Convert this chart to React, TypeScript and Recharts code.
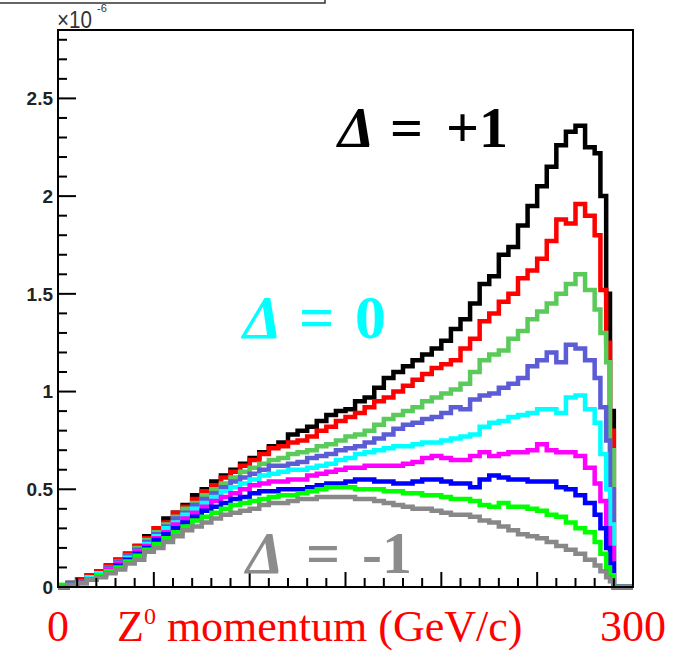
import React from 'react';
import { LineChart, Line, XAxis, YAxis, ReferenceArea } from 'recharts';

// bin lower edges (GeV/c); finer bins near the kinematic edge
const momentum = [
  0, 5, 10, 15, 20, 25, 30, 35, 40, 45, 50, 55, 60, 65, 70, 75, 80, 85, 90, 95,
  100, 105, 110, 115, 120, 125, 130, 135, 140, 145, 150, 155, 160, 165, 170, 175, 180, 185, 190, 195,
  200, 205, 210, 215, 220, 225, 230, 235, 240, 245, 250, 255, 260, 265, 270, 275, 280, 283, 286, 288,
  290, 300,
];

// values in units of 1e-6
const dPlus100 = [
  0.00, 0.02, 0.04, 0.06, 0.08, 0.11, 0.14, 0.17, 0.21, 0.26, 0.30, 0.35, 0.38, 0.42, 0.47, 0.50, 0.54, 0.57, 0.60, 0.63,
  0.66, 0.69, 0.72, 0.74, 0.78, 0.80, 0.82, 0.85, 0.88, 0.90, 0.91, 0.95, 0.97, 1.02, 1.07, 1.10, 1.13, 1.16, 1.19, 1.22,
  1.26, 1.32, 1.37, 1.45, 1.55, 1.59, 1.70, 1.74, 1.85, 1.95, 2.05, 2.15, 2.26, 2.33, 2.36, 2.25, 2.22, 2.00, 1.50, 0.90,
  0, 0,
];
const dPlus075 = [
  0.00, 0.02, 0.04, 0.06, 0.08, 0.11, 0.14, 0.17, 0.21, 0.25, 0.30, 0.33, 0.38, 0.41, 0.45, 0.49, 0.52, 0.56, 0.59, 0.62,
  0.65, 0.68, 0.71, 0.72, 0.74, 0.75, 0.77, 0.80, 0.82, 0.85, 0.87, 0.89, 0.92, 0.95, 0.97, 1.00, 1.03, 1.06, 1.09, 1.12,
  1.14, 1.16, 1.22, 1.27, 1.36, 1.40, 1.46, 1.50, 1.58, 1.62, 1.68, 1.77, 1.88, 1.86, 1.96, 1.90, 1.80, 1.52, 1.25, 0.80,
  0, 0,
];
const dPlus050 = [
  0.01, 0.02, 0.03, 0.05, 0.07, 0.10, 0.13, 0.16, 0.20, 0.24, 0.28, 0.32, 0.36, 0.40, 0.43, 0.47, 0.50, 0.53, 0.56, 0.59,
  0.61, 0.63, 0.65, 0.66, 0.68, 0.69, 0.70, 0.72, 0.73, 0.75, 0.77, 0.78, 0.80, 0.83, 0.86, 0.88, 0.90, 0.92, 0.95, 0.97,
  0.99, 1.01, 1.04, 1.10, 1.16, 1.19, 1.21, 1.27, 1.31, 1.37, 1.41, 1.45, 1.50, 1.55, 1.60, 1.52, 1.42, 1.30, 1.15, 0.70,
  0, 0,
];
const dPlus025 = [
  0.00, 0.02, 0.03, 0.05, 0.07, 0.10, 0.13, 0.16, 0.19, 0.23, 0.27, 0.31, 0.35, 0.38, 0.42, 0.45, 0.48, 0.51, 0.54, 0.56,
  0.58, 0.60, 0.62, 0.62, 0.63, 0.64, 0.66, 0.67, 0.68, 0.70, 0.71, 0.72, 0.74, 0.76, 0.78, 0.81, 0.83, 0.84, 0.86, 0.87,
  0.89, 0.92, 0.91, 0.96, 0.98, 0.99, 1.02, 1.04, 1.07, 1.13, 1.16, 1.20, 1.15, 1.24, 1.22, 1.16, 1.07, 0.92, 0.75, 0.50,
  0, 0,
];
const dZero = [
  0.00, 0.01, 0.03, 0.05, 0.07, 0.09, 0.12, 0.15, 0.18, 0.22, 0.26, 0.30, 0.33, 0.37, 0.40, 0.43, 0.46, 0.49, 0.51, 0.53,
  0.55, 0.57, 0.58, 0.59, 0.60, 0.60, 0.61, 0.62, 0.63, 0.65, 0.66, 0.68, 0.69, 0.70, 0.71, 0.72, 0.72, 0.73, 0.74, 0.74,
  0.75, 0.76, 0.77, 0.78, 0.82, 0.84, 0.85, 0.87, 0.88, 0.89, 0.91, 0.91, 0.89, 0.97, 0.98, 0.91, 0.84, 0.68, 0.50, 0.32,
  0, 0,
];
const dMinus025 = [
  0.00, 0.01, 0.03, 0.04, 0.06, 0.09, 0.12, 0.14, 0.18, 0.21, 0.25, 0.28, 0.32, 0.35, 0.38, 0.41, 0.44, 0.46, 0.48, 0.50,
  0.52, 0.53, 0.54, 0.54, 0.55, 0.55, 0.57, 0.58, 0.59, 0.60, 0.61, 0.61, 0.62, 0.62, 0.62, 0.62, 0.63, 0.64, 0.66, 0.67,
  0.66, 0.65, 0.65, 0.67, 0.69, 0.67, 0.68, 0.69, 0.69, 0.70, 0.73, 0.70, 0.69, 0.69, 0.67, 0.61, 0.53, 0.44, 0.30, 0.20,
  0, 0,
];
const dMinus050 = [
  0.00, 0.01, 0.02, 0.04, 0.06, 0.08, 0.11, 0.14, 0.17, 0.20, 0.24, 0.27, 0.30, 0.33, 0.36, 0.39, 0.41, 0.43, 0.45, 0.46,
  0.48, 0.49, 0.49, 0.50, 0.50, 0.50, 0.51, 0.52, 0.53, 0.53, 0.54, 0.55, 0.55, 0.54, 0.54, 0.53, 0.53, 0.54, 0.55, 0.55,
  0.54, 0.53, 0.53, 0.51, 0.55, 0.57, 0.56, 0.55, 0.55, 0.54, 0.54, 0.54, 0.51, 0.50, 0.47, 0.43, 0.37, 0.30, 0.20, 0.12,
  0, 0,
];
const dMinus075 = [
  0.01, 0.01, 0.02, 0.04, 0.06, 0.08, 0.10, 0.13, 0.16, 0.19, 0.22, 0.25, 0.28, 0.31, 0.34, 0.36, 0.38, 0.40, 0.42, 0.43,
  0.44, 0.45, 0.46, 0.47, 0.47, 0.48, 0.49, 0.50, 0.51, 0.51, 0.51, 0.50, 0.50, 0.50, 0.49, 0.49, 0.48, 0.48, 0.47, 0.47,
  0.46, 0.45, 0.45, 0.44, 0.42, 0.41, 0.43, 0.41, 0.41, 0.40, 0.39, 0.37, 0.36, 0.33, 0.30, 0.28, 0.23, 0.17, 0.10, 0.06,
  0, 0,
];
const dMinus100 = [
  0.00, 0.01, 0.02, 0.04, 0.05, 0.07, 0.09, 0.12, 0.14, 0.18, 0.20, 0.23, 0.26, 0.29, 0.31, 0.33, 0.35, 0.37, 0.38, 0.39,
  0.40, 0.42, 0.43, 0.43, 0.44, 0.45, 0.45, 0.46, 0.46, 0.46, 0.46, 0.45, 0.45, 0.44, 0.43, 0.42, 0.41, 0.40, 0.40, 0.39,
  0.38, 0.37, 0.37, 0.36, 0.34, 0.33, 0.31, 0.29, 0.27, 0.26, 0.25, 0.23, 0.21, 0.19, 0.17, 0.14, 0.11, 0.08, 0.05, 0.03,
  0, 0,
];

const xTicks = [
  0, 10, 20, 30, 40, 50, 60, 70, 80, 90, 100, 110, 120, 130, 140, 150, 160, 170, 180, 190,
  200, 210, 220, 230, 240, 250, 260, 270, 280, 290, 300,
];
const xLabels = [0, 300];
const yTicks = [
  0, 0.1, 0.2, 0.3, 0.4, 0.5, 0.6, 0.7, 0.8, 0.9, 1, 1.1, 1.2, 1.3, 1.4, 1.5,
  1.6, 1.7, 1.8, 1.9, 2, 2.1, 2.2, 2.3, 2.4, 2.5, 2.6, 2.7, 2.8,
];
const yLabels = [0, 0.5, 1, 1.5, 2, 2.5];

const series = [
  { key: 'dPlus100', values: dPlus100, color: '#000000' },
  { key: 'dPlus075', values: dPlus075, color: '#ff0000' },
  { key: 'dPlus050', values: dPlus050, color: '#5acb5a' },
  { key: 'dPlus025', values: dPlus025, color: '#5c5cd6' },
  { key: 'dZero', values: dZero, color: '#00ffff' },
  { key: 'dMinus025', values: dMinus025, color: '#ff00ff' },
  { key: 'dMinus050', values: dMinus050, color: '#0000ff' },
  { key: 'dMinus075', values: dMinus075, color: '#00ff00' },
  { key: 'dMinus100', values: dMinus100, color: '#888888' },
];

const data = momentum.map((m, i) => {
  const row: Record<string, number> = { m };
  series.forEach(s => { row[s.key] = s.values[i]; });
  return row;
});

const W = 685;
const H = 651;
const Y_MAX = 2.85;
const SERIF = '"Liberation Serif", "Times New Roman", serif';
const SANS = '"Liberation Sans", Arial, sans-serif';

const YTick = (props: any) => {
  const { x, y, payload } = props;
  const v = payload.value;
  const major = yLabels.includes(v);
  return (
    <g>
      <line x1={x} x2={x + (major ? 18 : 9)} y1={y} y2={y} stroke="#000" strokeWidth={2} />
      {major && (
        <text x={x - 5} y={y} dy="0.36em" textAnchor="end" fontFamily={SANS} fontWeight="bold" fontSize={19} fill="#222">
          {v}
        </text>
      )}
    </g>
  );
};

const XTick = (props: any) => {
  const { x, y, payload } = props;
  const v = payload.value;
  const major = v % 50 === 0;
  return (
    <g>
      <line x1={x} x2={x} y1={y} y2={y - (major ? 15 : 9)} stroke="#000" strokeWidth={2} />
      {xLabels.includes(v) && (
        <text x={x} y={y + 54} textAnchor="middle" fontFamily={SERIF} fontSize={44} fill="#ff0000">
          {v}
        </text>
      )}
    </g>
  );
};

export default function App() {
  return (
    <div style={{ position: 'absolute', left: 0, top: 0, width: W, height: H, background: '#fff' }}>
      <LineChart width={W} height={H} data={data} margin={{ top: 30, right: 52, bottom: 63, left: 57 }}>
        <XAxis
          dataKey="m"
          type="number"
          domain={[0, 300]}
          ticks={xTicks}
          interval={0}
          height={1}
          tickSize={0}
          tickMargin={0}
          tickLine={false}
          axisLine={{ stroke: '#000', strokeWidth: 2 }}
          tick={<XTick />}
        />
        <YAxis
          type="number"
          domain={[0, Y_MAX]}
          ticks={yTicks}
          interval={0}
          width={1}
          tickSize={0}
          tickMargin={0}
          tickLine={false}
          axisLine={{ stroke: '#000', strokeWidth: 2 }}
          tick={<YTick />}
        />
        <ReferenceArea x1={0} x2={300} y1={0} y2={Y_MAX} fill="none" stroke="#000" strokeWidth={2} ifOverflow="visible" />
        {series.map(s => (
          <Line
            key={s.key}
            dataKey={s.key}
            type="stepAfter"
            stroke={s.color}
            strokeWidth={4.5}
            strokeLinejoin="miter"
            dot={false}
            activeDot={false}
            isAnimationActive={false}
          />
        ))}
      </LineChart>
      <svg width={W} height={H} style={{ position: 'absolute', left: 0, top: 0, pointerEvents: 'none' }}>
        <polyline points="0,3 325,3 325,0" fill="none" stroke="#333" strokeWidth={1.5} />
        <text x={57} y={28} fontFamily={SANS} fontSize={24} fill="#333" textLength={35} lengthAdjust="spacingAndGlyphs">×10</text>
        <text x={97} y={12} fontFamily={SANS} fontSize={11} fill="#333">-6</text>
        <text fontFamily={SERIF} fontWeight="bold" fontSize={58} fill="#000">
          <tspan x={338} y={147} fontStyle="italic">Δ</tspan>
          <tspan x={390}>=</tspan>
          <tspan x={446}>+1</tspan>
        </text>
        <text fontFamily={SERIF} fontWeight="bold" fontSize={62} fill="#00ffff">
          <tspan x={243} y={338} fontStyle="italic">Δ</tspan>
          <tspan x={299}>=</tspan>
          <tspan x={355}>0</tspan>
        </text>
        <text fontFamily={SERIF} fontWeight="bold" fontSize={60} fill="#8c8c8c">
          <tspan x={246} y={573} fontStyle="italic">Δ</tspan>
          <tspan x={306}>=</tspan>
          <tspan x={362}>-1</tspan>
        </text>
        <text x={117} y={641} fontFamily={SERIF} fontSize={44} fill="#ff0000">
          Z<tspan dy={-17} fontSize={24}>0</tspan>
          <tspan dy={17}> momentum (GeV/c)</tspan>
        </text>
      </svg>
    </div>
  );
}
